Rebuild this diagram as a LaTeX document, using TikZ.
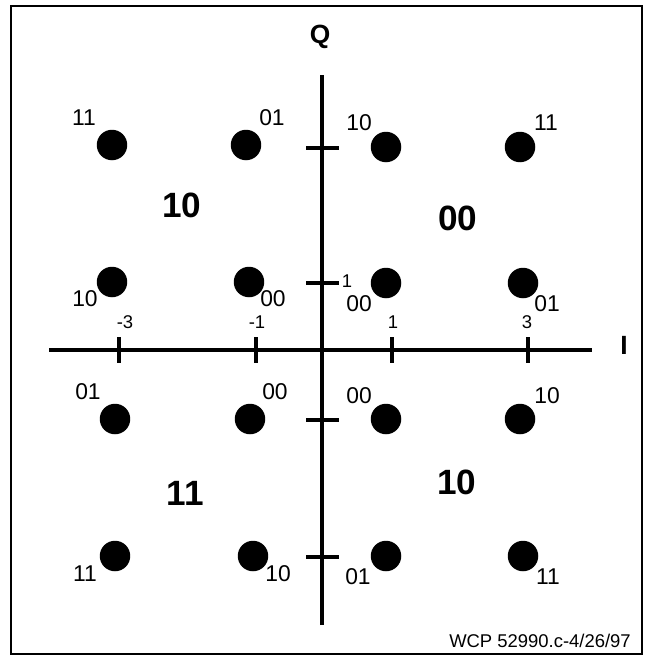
\documentclass[tikz,border=0pt]{standalone}
\usepackage{fontspec}
\setmainfont{Liberation Sans}
\usetikzlibrary{positioning}

\begin{document}
\begin{tikzpicture}[
    x=0.02cm, y=-0.02cm,
    point/.style={circle, fill=black, inner sep=0pt, minimum size=0.61cm},
    bits/.style={inner sep=0pt, font=\fontsize{13}{14}\selectfont},
    region/.style={inner sep=0pt, font=\fontsize{20}{22}\selectfont\bfseries},
    ticklbl/.style={inner sep=0pt, font=\fontsize{10.5}{11}\selectfont},
    axislbl/.style={inner sep=0pt, font=\fontsize{15}{16}\selectfont\bfseries},
    axis/.style={line width=2pt},
    axtick/.style={line width=2.6pt}
  ]
    \useasboundingbox (0,0) rectangle (646,656);
    \draw[line width=1.1pt] (11,6) rectangle (642,654);

    % axes
    \coordinate (qtop) at (322,75);
    \coordinate (qbot) at (322,625);
    \coordinate (ileft) at (49,350);
    \coordinate (iright) at (592,350);
    \draw[axis] (ileft) -- (iright);
    \draw[axis] (qbot) -- (qtop);
    \foreach \x in {119,256,392,528}
        \draw[axtick] (\x,337) -- (\x,363);
    \foreach \y in {148,283,420,557}
        \draw[axtick] (306,\y) -- (339,\y);

    \node[axislbl] (qlbl) at (320,37) {Q};
    \node[axislbl] (ilbl) at (624,345) {I};
    \node[ticklbl] (im3) at (125,322) {-3};
    \node[ticklbl] (im1) at (257,322) {-1};
    \node[ticklbl] (ip1) at (393,322) {1};
    \node[ticklbl] (ip3) at (527,322) {3};
    \node[ticklbl] (qp1) at (347,281) {1};

    % constellation points
    \node[point] (d11) at (112,145) {};
    \node[point] (d12) at (246,145) {};
    \node[point] (d13) at (386,147) {};
    \node[point] (d14) at (520,147) {};
    \node[point] (d21) at (112,282) {};
    \node[point] (d22) at (249,282) {};
    \node[point] (d23) at (386,283) {};
    \node[point] (d24) at (523,283) {};
    \node[point] (d31) at (115,419) {};
    \node[point] (d32) at (250,419) {};
    \node[point] (d33) at (386,419) {};
    \node[point] (d34) at (520,419) {};
    \node[point] (d41) at (115,556) {};
    \node[point] (d42) at (253,556) {};
    \node[point] (d43) at (386,556) {};
    \node[point] (d44) at (523,556) {};

    % bit labels
    \node[bits] (b11) at (84,118) {11};
    \node[bits] (b12) at (272,118) {01};
    \node[bits] (b13) at (359,123) {10};
    \node[bits] (b14) at (546,123) {11};
    \node[bits] (b21) at (85,299) {10};
    \node[bits] (b22) at (273,299) {00};
    \node[bits] (b23) at (359,304) {00};
    \node[bits] (b24) at (547,304) {01};
    \node[bits] (b31) at (88,392) {01};
    \node[bits] (b32) at (275,392) {00};
    \node[bits] (b33) at (359,396) {00};
    \node[bits] (b34) at (547,396) {10};
    \node[bits] (b41) at (85,574) {11};
    \node[bits] (b42) at (278,574) {10};
    \node[bits] (b43) at (358,577) {01};
    \node[bits] (b44) at (548,577) {11};

    % quadrant labels
    \node[region] (qd2) at (182,205) {10};
    \node[region] (qd1) at (458,218) {00};
    \node[region] (qd3) at (185,493) {11};
    \node[region] (qd4) at (457,482) {10};

    \node[ticklbl] (stamp) at (540,641) {WCP 52990.c-4/26/97};
\end{tikzpicture}
\end{document}
